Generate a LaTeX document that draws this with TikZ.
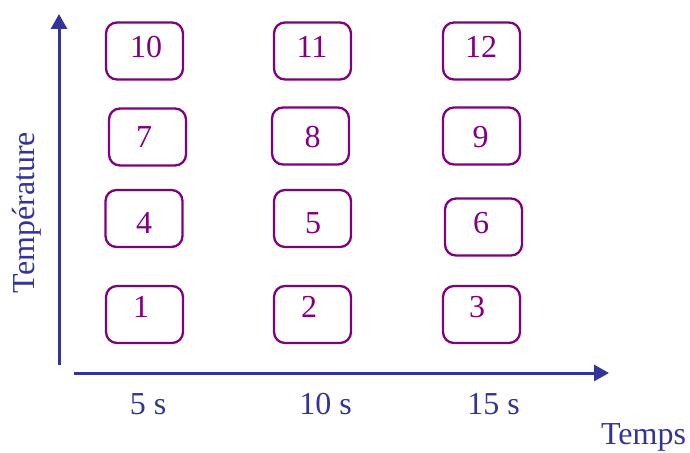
\documentclass[tikz,border=0pt]{standalone}
\usepackage{fontspec}
\setmainfont{Liberation Serif}
\usetikzlibrary{arrows.meta}
\definecolor{boxpurple}{RGB}{128,0,128}
\definecolor{axisblue}{RGB}{51,51,153}
\tikzset{
  cellbox/.style={draw=boxpurple, line width=2.3pt, rounded corners=11pt,
    minimum width=77pt, minimum height=57pt, inner sep=0pt},
  num/.style={text=boxpurple, anchor=base, inner sep=0pt,
    font=\fontsize{32}{38}\selectfont},
  axislbl/.style={text=axisblue, anchor=base, inner sep=0pt,
    font=\fontsize{32}{38}\selectfont},
  axisline/.style={draw=axisblue, line width=3pt,
    -{Triangle[length=15pt,width=16pt]}}
}
\begin{document}
\begin{tikzpicture}[x=1pt,y=-1pt]
\useasboundingbox (0,0) rectangle (690,452);
% axes
\coordinate (yo) at (59,365);
\coordinate (yt) at (59,14);
\coordinate (xo) at (74,373);
\coordinate (xt) at (609,373);
\draw[axisline] (yo) -- (yt);
\draw[axisline] (xo) -- (xt);
% boxes
\node[cellbox] (b10) at (144.5,51) {};
\node[cellbox] (b11) at (312.5,51) {};
\node[cellbox] (b12) at (481.5,51) {};
\node[cellbox] (b7) at (147.5,137) {};
\node[cellbox] (b8) at (310.5,136) {};
\node[cellbox] (b9) at (481.5,136) {};
\node[cellbox] (b4) at (144,218.5) {};
\node[cellbox] (b5) at (312.5,218.5) {};
\node[cellbox] (b6) at (483.5,227) {};
\node[cellbox] (b1) at (144.5,314.5) {};
\node[cellbox] (b2) at (312.5,314.5) {};
\node[cellbox] (b3) at (481.5,314.5) {};
% numbers
\node[num] (t10) at (146,58) {10};
\node[num] (t11) at (312,58) {11};
\node[num] (t12) at (481,58) {12};
\node[num] (t7) at (144,147) {7};
\node[num] (t8) at (312.5,147) {8};
\node[num] (t9) at (480.5,147) {9};
\node[num] (t4) at (144,233) {4};
\node[num] (t5) at (313,233) {5};
\node[num] (t6) at (481,233) {6};
\node[num] (t1) at (141,317) {1};
\node[num] (t2) at (309,317) {2};
\node[num] (t3) at (477,317) {3};
% axis labels
\node[axislbl] (l5) at (148,414) {5 s};
\node[axislbl] (l10) at (325.5,414) {10 s};
\node[axislbl] (l15) at (493.5,414) {15 s};
\node[axislbl] (ltemps) at (643.5,444) {Temps};
\node[axislbl, rotate=90] (ltemp) at (34,212.5) {Température};
\end{tikzpicture}
\end{document}
